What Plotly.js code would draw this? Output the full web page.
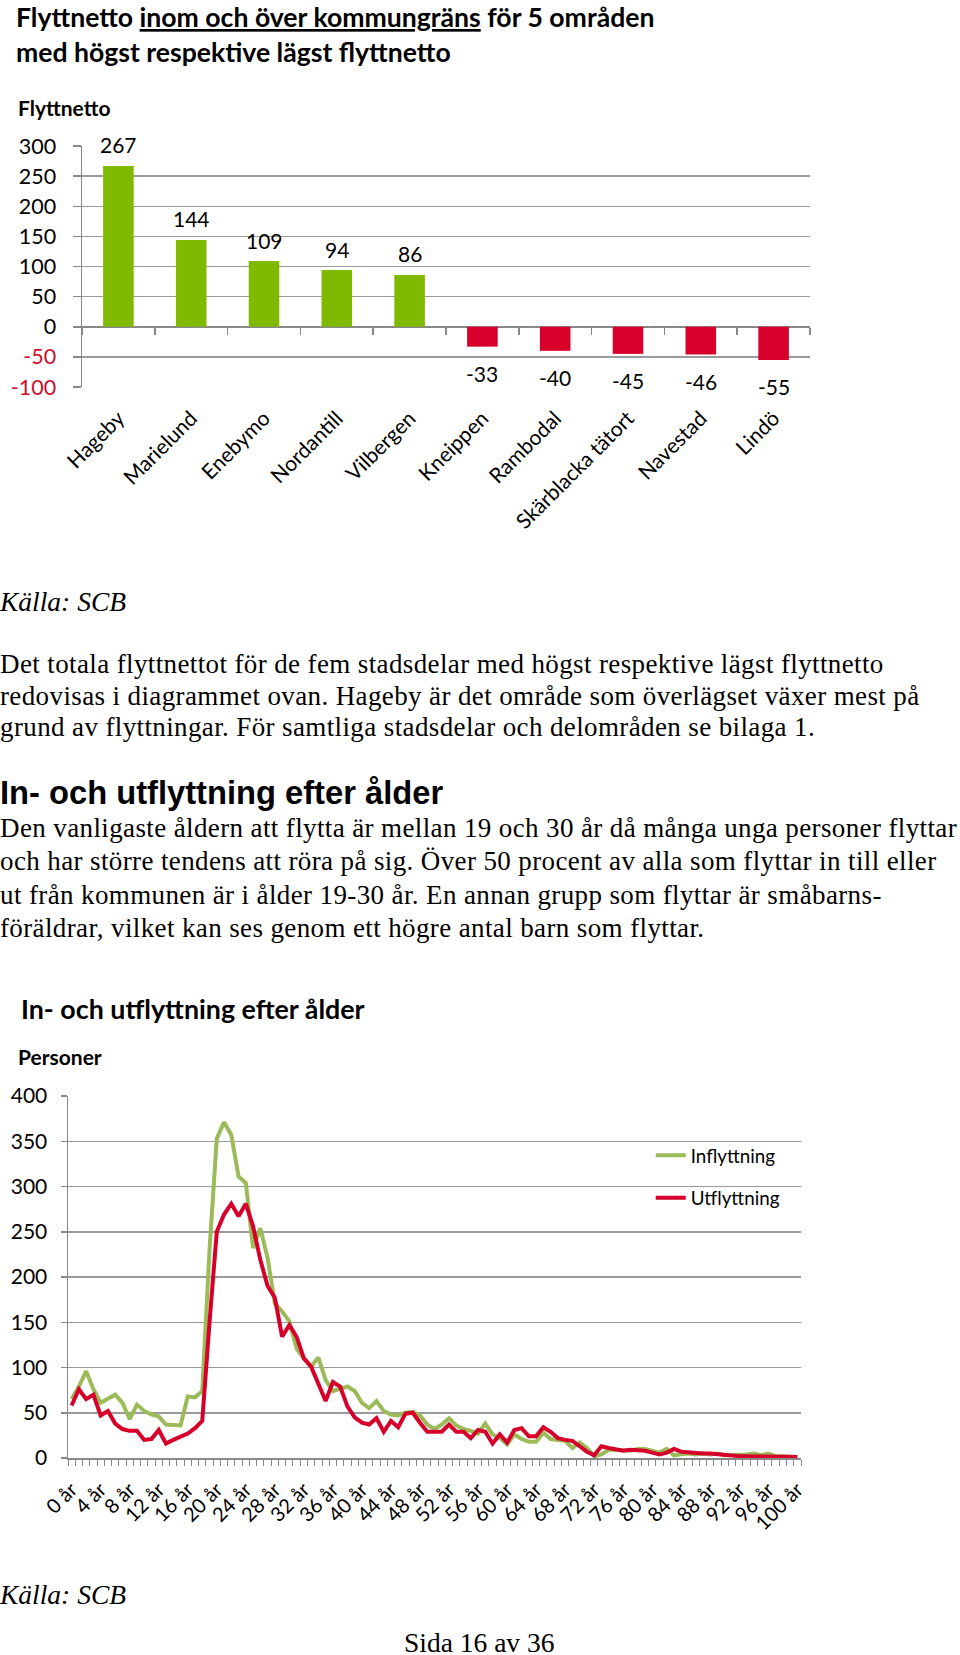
<!DOCTYPE html>
<html><head><meta charset="utf-8">
<script src="https://cdn.plot.ly/plotly-3.0.1.min.js"></script>
<style>
body{margin:0;width:960px;height:1655px;position:relative;background:#fff;overflow:hidden}
.t{position:absolute;left:0;white-space:nowrap;font-family:"Liberation Serif","Times New Roman",serif;color:#000}
.p{font-size:27px;letter-spacing:0.38px}
.h{position:absolute;left:0;white-space:nowrap;font-family:"Liberation Sans",Arial,sans-serif;font-weight:bold;color:#000}
</style></head><body>
<div id="c1" style="position:absolute;left:0;top:0;width:960px;height:580px"></div>
<div class="t" style="top:587px;font-size:27.5px;line-height:30px;font-style:italic">Källa: SCB</div>
<div class="t p" style="top:649px;line-height:31.5px">Det totala flyttnettot för de fem stadsdelar med högst respektive lägst flyttnetto<br>redovisas i diagrammet ovan. Hageby är det område som överlägset växer mest på<br>grund av flyttningar. För samtliga stadsdelar och delområden se bilaga 1.</div>
<div class="h" style="top:775px;font-size:32.7px;line-height:36px">In- och utflyttning efter ålder</div>
<div class="t p" style="top:812px;line-height:33.3px">Den vanligaste åldern att flytta är mellan 19 och 30 år då många unga personer flyttar<br>och har större tendens att röra på sig. Över 50 procent av alla som flyttar in till eller<br>ut från kommunen är i ålder 19-30 år. En annan grupp som flyttar är småbarns-<br>föräldrar, vilket kan ses genom ett högre antal barn som flyttar.</div>
<div id="c2" style="position:absolute;left:0;top:960px;width:960px;height:600px"></div>
<div class="t" style="top:1580px;font-size:27.5px;line-height:30px;font-style:italic">Källa: SCB</div>
<div class="t" style="top:1631px;left:404px;font-size:27.5px;line-height:23px">Sida 16 av 36</div>
<script>
// ---------- Chart 1 data ----------
const areas = ["Hageby","Marielund","Enebymo","Nordantill","Vilbergen","Kneippen","Rambodal","Skärblacka tätort","Navestad","Lindö"];
const netto = [267,144,109,94,86,-33,-40,-45,-46,-55];
const yTickVals1 = [-100,-50,0,50,100,150,200,250,300];

// ---------- Chart 2 data ----------
const ageLabels = [];
for (let a = 0; a <= 100; a++) ageLabels.push(a + " år");
const inflyttning = [65,79,96,76,61,65,70,61,43,59,52,48,46,37,37,36,68,67,74,230,
 353,371,357,311,304,232,254,221,171,162,151,121,110,101,111,86,74,76,79,74,
 61,55,63,52,48,47,50,51,47,37,32,37,44,36,32,30,27,38,26,22,
 15,26,21,18,18,28,21,20,19,11,17,11,2,4,9,9,8,8,10,10,
 8,6,10,3,4,5,4,5,4,5,3,3,3,4,5,3,5,2,2,1,1];
const utflyttning = [58,76,65,70,47,52,38,32,30,30,20,21,31,16,20,23,27,33,41,150,
 250,269,281,267,281,256,219,190,177,134,147,134,110,101,83,63,84,79,57,45,
 39,37,44,29,41,34,49,50,39,29,29,29,37,29,29,22,31,29,16,26,
 17,31,33,24,24,34,29,22,20,19,13,7,3,13,11,10,8,9,9,8,
 6,4,6,10,7,6,6,5,5,4,4,3,2,2,2,2,2,1,1,1,1];
const yTickVals2 = [0,50,100,150,200,250,300,350,400];

const GREEN = "#80BA00", RED = "#D6002A";
const LFONT = "Lato, 'Open Sans', sans-serif";
const GRID = "#9A9A9A";

// ---------- Chart 1 ----------
const ann1 = areas.map((a, i) => ({
  x: a, y: netto[i], xref: "x", yref: "y", text: String(netto[i]), showarrow: false,
  yshift: netto[i] >= 0 ? 21 : -27, font: {family: LFONT, size: 21, color: "#000"}
}));
ann1.push({xref: "paper", yref: "paper", x: -0.0907, y: 1.158, xanchor: "left", yanchor: "middle",
  text: "<b>Flyttnetto</b>", showarrow: false, font: {family: LFONT, size: 21, color: "#000"}});

Plotly.newPlot("c1", [
  {type: "bar", x: areas, y: netto, marker: {color: netto.map(v => v >= 0 ? GREEN : RED)},
   hoverinfo: "x+y", showlegend: false},
  {type: "scatter", mode: "none", x: areas, y: netto, xaxis: "x2", hoverinfo: "skip", showlegend: false}
], {
  width: 960, height: 580,
  margin: {l: 82, r: 150, t: 146, b: 193},
  paper_bgcolor: "#fff", plot_bgcolor: "#fff",
  bargap: 0.58,
  title: {text: "Flyttnetto <u>inom och över kommungräns</u> för 5 områden<br>med högst respektive lägst flyttnetto",
    xref: "container", yref: "container", x: 16/960, xanchor: "left", y: 1 - 27/580, yanchor: "middle",
    font: {family: LFONT, size: 26.6, color: "#000", weight: "bold"}},
  xaxis: {type: "category", showgrid: false, showline: false, zeroline: false, ticks: "",
    tickangle: -45, ticklabelstandoff: 14, tickfont: {family: LFONT, size: 21, color: "#000"}},
  xaxis2: {type: "category", overlaying: "x", anchor: "free", position: 0.25, side: "bottom",
    range: [-0.5, 9.5], showgrid: false, showline: false, zeroline: false, showticklabels: false,
    ticks: "outside", ticklen: 7, tickwidth: 1.5, tickcolor: "#888", tickson: "boundaries"},
  yaxis: {range: [-100, 300], tickvals: yTickVals1,
    ticktext: yTickVals1.map(v => v < 0 ? '<span style="color:#C8102E">' + v + '</span>' : String(v)),
    showgrid: true, gridcolor: GRID, gridwidth: 1.5,
    zeroline: true, zerolinecolor: "#888", zerolinewidth: 2,
    showline: true, linecolor: "#888", linewidth: 1.5,
    ticks: "outside", ticklen: 8, tickcolor: "#888", tickwidth: 1.5, ticklabelstandoff: 12,
    tickfont: {family: LFONT, size: 21.5, color: "#000"}},
  annotations: ann1
}, {displayModeBar: false, staticPlot: true});

// ---------- Chart 2 ----------
Plotly.newPlot("c2", [
  {type: "scatter", mode: "lines", name: "Inflyttning", x: ageLabels, y: inflyttning,
   line: {color: "#9BBB59", width: 4}, legendgroup: "a"},
  {type: "scatter", mode: "lines", name: "Utflyttning", x: ageLabels, y: utflyttning,
   line: {color: RED, width: 4}, legendgroup: "b"}
], {
  width: 960, height: 600,
  margin: {l: 68, r: 159, t: 136, b: 101.5},
  paper_bgcolor: "#fff", plot_bgcolor: "#fff",
  title: {text: "In- och utflyttning efter ålder", xref: "container", yref: "container",
    x: 21/960, xanchor: "left", y: 1 - 50/600, yanchor: "middle",
    font: {family: LFONT, size: 26.8, color: "#000", weight: "bold"}},
  showlegend: true,
  legend: {x: 0.795, xanchor: "left", y: 0.888, yanchor: "top", tracegroupgap: 15,
    bgcolor: "rgba(0,0,0,0)", font: {family: LFONT, size: 18.8, color: "#000"}},
  xaxis: {type: "category", range: [-0.5, 100.5], tickvals: ageLabels,
    ticktext: ageLabels.map((l, i) => i % 4 === 0 ? l : ""),
    tickson: "boundaries", ticks: "outside", ticklen: 6, tickcolor: "#888", tickwidth: 1,
    showline: true, linecolor: "#888", linewidth: 2, showgrid: false, zeroline: false,
    tickangle: -45, ticklabelstandoff: 10, tickfont: {family: LFONT, size: 20, color: "#000"}},
  yaxis: {range: [0, 400], tickvals: yTickVals2, showgrid: true, gridcolor: GRID, gridwidth: 1.5,
    zeroline: false, showline: true, linecolor: "#888", linewidth: 1.5,
    ticks: "outside", ticklen: 6, tickcolor: "#888", tickwidth: 1.5, ticklabelstandoff: 9,
    tickfont: {family: LFONT, size: 21, color: "#000"}},
  annotations: [{xref: "paper", yref: "paper", x: -0.0714, y: 1.11, xanchor: "left", yanchor: "middle",
    text: "<b>Personer</b>", showarrow: false, font: {family: LFONT, size: 21, color: "#000"}}]
}, {displayModeBar: false, staticPlot: true});
</script>
</body></html>
